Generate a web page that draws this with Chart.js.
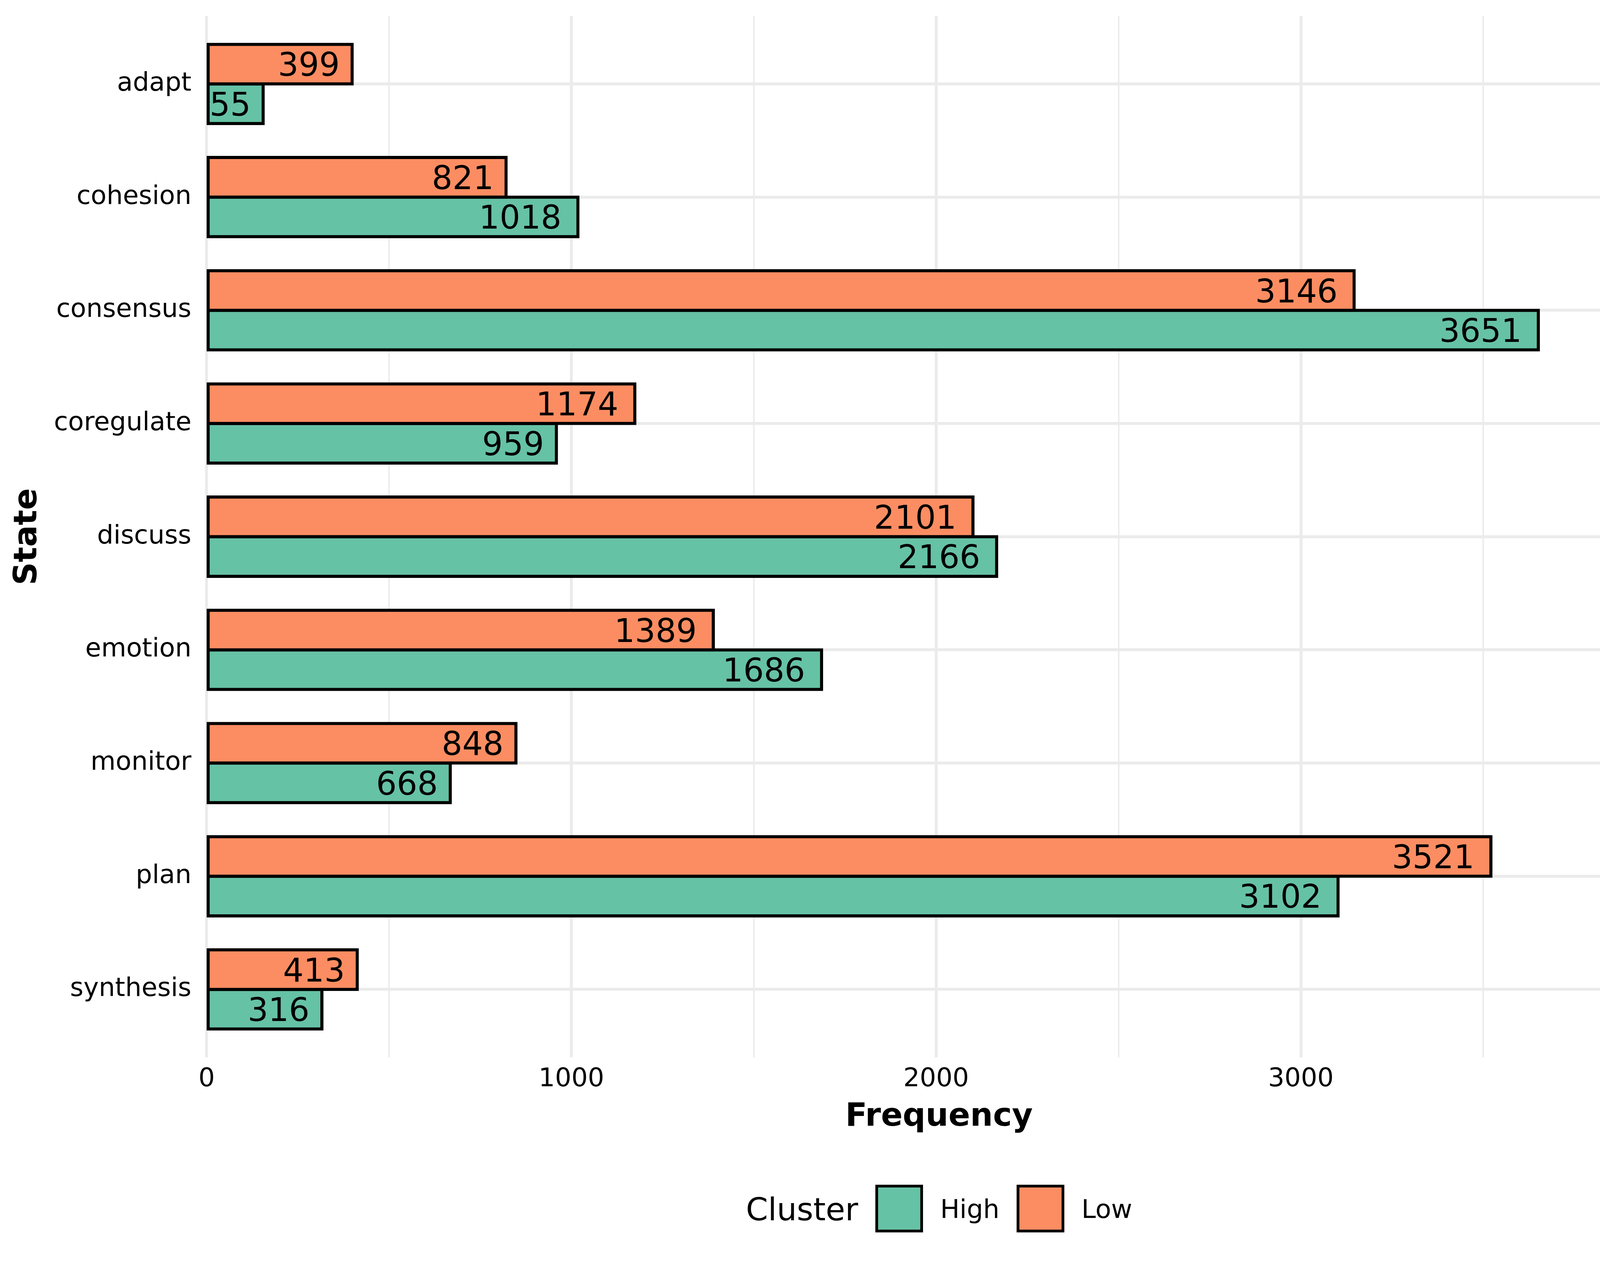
<!DOCTYPE html>
<html>
<head>
<meta charset="utf-8">
<title>State frequency by cluster</title>
<script src="https://cdn.jsdelivr.net/npm/chart.js@4.4.1/dist/chart.umd.min.js"></script>
<style>
  html, body { margin: 0; padding: 0; background: #fff; overflow: hidden; }
  /* the plot is a bit wider than the window so the "4000" label gets cut at the edge */
  #frame { width: 4320px; height: 3240px; overflow: hidden; position: relative; }
  #box { width: 4400px; height: 3240px; position: absolute; left: 0; top: 0; }
</style>
</head>
<body>
<div id="frame"><div id="box"><canvas id="myChart"></canvas></div></div>
<script>
// datos
var states = ['adapt', 'cohesion', 'consensus', 'coregulate', 'discuss', 'emotion', 'monitor', 'plan', 'synthesis'];
var highCounts = [155, 1018, 3651, 959, 2166, 1686, 668, 3102, 316];
var lowCounts = [399, 821, 3146, 1174, 2101, 1389, 848, 3521, 413];
var freqTicks = [0, 500, 1000, 1500, 2000, 2500, 3000, 3500, 4000];
var clusters = ['High', 'Low'];
var clusterColors = ['#66C2A5', '#FC8D62'];
var legendTitle = 'Cluster';

var FONT = "'DejaVu Sans', sans-serif";
Chart.defaults.font.family = FONT;
Chart.defaults.color = '#000';

// etiquetas de valor dentro de cada barra (hjust ~1.2, recortadas al panel)
var barLabels = {
  id: 'barLabels',
  afterDatasetsDraw: function(chart) {
    var c = chart.ctx;
    var area = chart.chartArea;
    var size = 83;
    c.save();
    c.beginPath();
    c.rect(area.left, area.top, area.right - area.left, area.bottom - area.top);
    c.clip();
    c.font = size + 'px ' + FONT;
    c.fillStyle = '#000';
    c.textAlign = 'left';
    c.textBaseline = 'alphabetic';
    chart.data.datasets.forEach(function(ds, d) {
      chart.getDatasetMeta(d).data.forEach(function(bar, i) {
        var txt = String(ds.data[i].x);
        var w = c.measureText(txt).width;
        c.fillText(txt, bar.x - 1.2 * w, bar.y + 0.729 * size / 2);
      });
    });
    c.restore();
  }
};

// leyenda horizontal con el titulo a la izquierda
var clusterLegend = {
  id: 'clusterLegend',
  afterDraw: function(chart) {
    var c = chart.ctx;
    var area = chart.chartArea;
    var key = 122, gap = 44, cy = 3093;
    var titleSize = 81, labelSize = 66;
    c.save();
    c.font = titleSize + 'px ' + FONT;
    var titleW = c.measureText(legendTitle).width;
    c.font = labelSize + 'px ' + FONT;
    var labelW = clusters.map(function(s) { return c.measureText(s).width; });
    var total = titleW;
    labelW.forEach(function(w) { total += gap + key + gap + w; });
    var x = (area.left + area.right) / 2 - total / 2;

    c.fillStyle = '#000';
    c.textBaseline = 'alphabetic';
    c.textAlign = 'left';
    c.font = titleSize + 'px ' + FONT;
    c.fillText(legendTitle, x, cy + 0.729 * titleSize / 2);
    x += titleW + gap;

    clusters.forEach(function(name, i) {
      c.fillStyle = clusterColors[i];
      c.fillRect(x, cy - key / 2, key, key);
      c.lineWidth = 7;
      c.strokeStyle = '#000';
      c.strokeRect(x + 3.5, cy - key / 2 + 3.5, key - 7, key - 7);
      x += key + gap;
      c.fillStyle = '#000';
      c.font = labelSize + 'px ' + FONT;
      c.fillText(name, x, cy + 0.729 * labelSize / 2);
      x += labelW[i] + gap;
    });
    c.restore();
  }
};

var ctx = document.getElementById('myChart').getContext('2d');
var myChart = new Chart(ctx, {
  type: 'bar',
  data: {
    datasets: [{
      label: clusters[1],
      data: lowCounts.map(function(v, i) { return {x: v, y: i}; }),
      backgroundColor: clusterColors[1]
    }, {
      label: clusters[0],
      data: highCounts.map(function(v, i) { return {x: v, y: i}; }),
      backgroundColor: clusterColors[0]
    }]
  },
  options: {
    indexAxis: 'y',
    responsive: true,
    maintainAspectRatio: false,
    animation: false,
    layout: {
      padding: {top: 41, right: 121, bottom: 234, left: 0}
    },
    datasets: {
      bar: {
        categoryPercentage: 0.7,
        barPercentage: 1,
        borderColor: '#000',
        borderWidth: 8,
        borderSkipped: false,
        inflateAmount: 4
      }
    },
    scales: {
      x: {
        type: 'linear',
        position: 'bottom',
        min: 0,
        max: 4016,
        afterBuildTicks: function(scale) {
          scale.ticks = freqTicks.map(function(v) { return {value: v}; });
        },
        afterFit: function(scale) { scale.height = 300; },
        ticks: {
          font: {size: 66},
          padding: 17,
          maxRotation: 0,
          autoSkip: false,
          callback: function(v) { return v % 1000 === 0 ? String(v) : ''; }
        },
        grid: {
          color: '#EBEBEB',
          drawTicks: false,
          lineWidth: function(c) {
            return (c.tick && c.tick.value % 1000 === 0) ? 7.5 : 3.8;
          }
        },
        border: {display: false},
        title: {
          display: true,
          text: 'Frequency',
          font: {size: 82, weight: 'bold'},
          padding: {top: 0, bottom: 97}
        }
      },
      y: {
        type: 'linear',
        position: 'left',
        reverse: true,
        offset: false,
        min: -0.6,
        max: states.length - 0.4,
        afterBuildTicks: function(scale) {
          scale.ticks = states.map(function(s, i) { return {value: i}; });
        },
        afterFit: function(scale) { scale.width = 529; },
        ticks: {
          font: {size: 66},
          padding: 0,
          autoSkip: false,
          callback: function(v) { return states[v]; }
        },
        grid: {
          color: '#EBEBEB',
          offset: false,
          drawTicks: true,
          tickLength: 39,
          tickColor: 'rgba(0,0,0,0)',
          lineWidth: 7.5
        },
        border: {display: false},
        title: {
          display: true,
          text: 'State',
          font: {size: 82, weight: 'bold'},
          padding: {top: 23, bottom: 0}
        }
      }
    },
    plugins: {
      legend: {display: false},
      tooltip: {enabled: false}
    }
  },
  plugins: [barLabels, clusterLegend]
});
</script>
</body>
</html>
